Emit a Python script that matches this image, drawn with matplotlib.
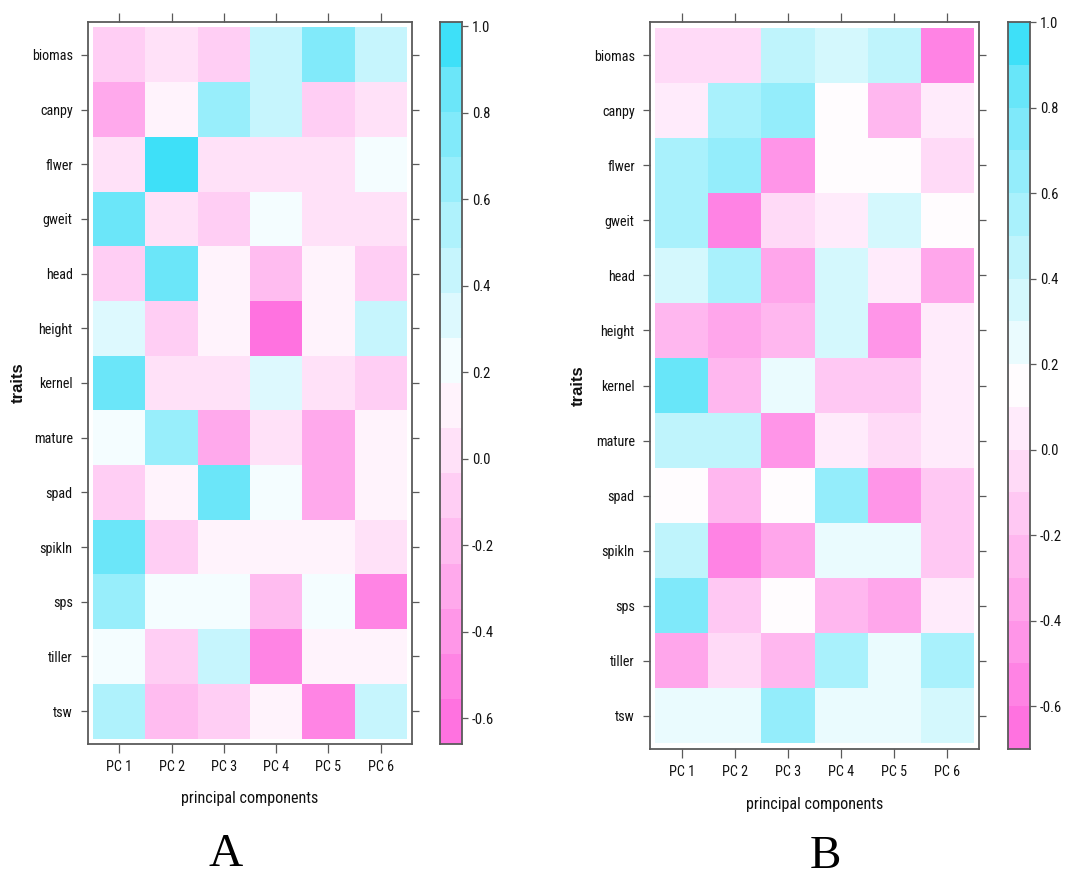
import numpy as np
import matplotlib
matplotlib.use("Agg")
import matplotlib.pyplot as plt
from matplotlib.colors import ListedColormap, BoundaryNorm
from matplotlib import font_manager as fm

# ---------------- data ----------------
traits = ["biomas", "canpy", "flwer", "gweit", "head", "height", "kernel",
          "mature", "spad", "spikln", "sps", "tiller", "tsw"]
components = ["PC 1", "PC 2", "PC 3", "PC 4", "PC 5", "PC 6"]

loadings_A = [
    [-0.08, 0.02, -0.08, 0.44, 0.75, 0.44],   # biomas
    [-0.29, 0.13, 0.65, 0.44, -0.08, 0.02],   # canpy
    [0.02, 1.01, 0.02, 0.02, 0.02, 0.23],     # flwer
    [0.85, 0.02, -0.08, 0.23, 0.02, 0.02],    # gweit
    [-0.08, 0.85, 0.13, -0.19, 0.13, -0.08],  # head
    [0.33, -0.08, 0.13, -0.66, 0.13, 0.44],   # height
    [0.85, 0.02, 0.02, 0.33, 0.02, -0.08],    # kernel
    [0.23, 0.65, -0.29, 0.02, -0.29, 0.13],   # mature
    [-0.08, 0.13, 0.85, 0.23, -0.29, 0.13],   # spad
    [0.85, -0.08, 0.13, 0.13, 0.13, 0.02],    # spikln
    [0.65, 0.23, 0.23, -0.19, 0.23, -0.50],   # sps
    [0.23, -0.08, 0.44, -0.50, 0.13, 0.13],   # tiller
    [0.54, -0.19, -0.08, 0.13, -0.50, 0.44],  # tsw
]

loadings_B = [
    [-0.05, -0.05, 0.45, 0.35, 0.45, -0.55],  # biomas
    [0.05, 0.55, 0.65, 0.15, -0.25, 0.05],    # canpy
    [0.55, 0.65, -0.45, 0.15, 0.15, -0.05],   # flwer
    [0.55, -0.55, -0.05, 0.05, 0.35, 0.15],   # gweit
    [0.35, 0.55, -0.35, 0.35, 0.05, -0.35],   # head
    [-0.25, -0.35, -0.25, 0.35, -0.45, 0.05], # height
    [0.85, -0.25, 0.25, -0.15, -0.15, 0.05],  # kernel
    [0.45, 0.45, -0.45, 0.05, -0.05, 0.05],   # mature
    [0.15, -0.25, 0.15, 0.65, -0.45, -0.15],  # spad
    [0.45, -0.55, -0.35, 0.25, 0.25, -0.15],  # spikln
    [0.75, -0.15, 0.15, -0.25, -0.35, 0.05],  # sps
    [-0.35, -0.05, -0.25, 0.55, 0.25, 0.55],  # tiller
    [0.25, 0.25, 0.65, 0.25, 0.25, 0.35],     # tsw
]

colorkey_ticks = [-0.6, -0.4, -0.2, 0.0, 0.2, 0.4, 0.6, 0.8, 1.0]
levels_B_range = (-0.7, 1.0)   # colour key range used in panel B (step 0.1)

# ---------------- style ----------------
W, H = 1071, 876
plt.rcParams["axes.unicode_minus"] = False
TXT = "#111111"
FRAME = "#5a5a5a"


def find_narrow_font():
    prefs = ["liberation sans narrow", "arial narrow", "roboto condensed",
             "noto sans condensed", "open sans condensed"]
    entries = fm.fontManager.ttflist
    for p in prefs:
        for e in entries:
            if e.name.lower() == p and e.weight in (400, "normal", "regular") \
                    and e.style == "normal":
                return e.fname
        for e in entries:
            if e.name.lower() == p:
                return e.fname
    for base in ["DejaVu Sans", "Noto Sans", "Open Sans", "Roboto", "Liberation Sans"]:
        for e in entries:
            if e.name == base and str(e.stretch) in ("condensed", "semi-condensed") \
                    and e.style == "normal" and e.weight in (400, "normal", "regular"):
                return e.fname
    return None


NARROW = find_narrow_font()


def sans(size):
    if NARROW:
        return fm.FontProperties(fname=NARROW, size=size)
    return fm.FontProperties(family=["Liberation Sans", "DejaVu Sans"], size=size * 0.86)


# colour ramp magenta -> white -> cyan (lattice-like levels)
MAG_NODES_T = [0.0, 1.0]
MAG_NODES = [(255, 255, 255), (255, 114, 224)]
CYA_NODES_T = [0.0, 0.87, 1.0]
CYA_NODES = [(255, 255, 255), (106, 230, 249), (62, 224, 248)]


def ramp(t, nodes_t, nodes):
    arr = np.array(nodes, dtype=float)
    return tuple(np.interp(t, nodes_t, arr[:, i]) / 255.0 for i in range(3))


def band_colors(n):
    cols = []
    for f in np.linspace(0, 1, n):
        if f <= 0.5:
            t = 0.02 + 0.98 * (0.5 - f) / 0.5
            cols.append(ramp(t, MAG_NODES_T, MAG_NODES))
        else:
            t = (f - 0.5) / 0.5
            cols.append(ramp(t, CYA_NODES_T, CYA_NODES))
    return cols


def px_rect(x0, y0, x1, y1):
    return [x0 / W, 1 - y1 / H, (x1 - x0) / W, (y1 - y0) / H]


fig = plt.figure(figsize=(W / 100, H / 100), dpi=100)
fig.patch.set_facecolor("white")


def panel(values, levels, ax_rect, cb_rect, traits_x, xlab_y, letter, letter_xy):
    data = np.array(values)
    nb = len(levels) - 1
    cmap = ListedColormap(band_colors(nb))
    cmap.set_over(cmap(nb - 1))
    cmap.set_under(cmap(0))
    norm = BoundaryNorm(levels, nb)

    ax = fig.add_axes(px_rect(*ax_rect))
    nx, ny = len(components), len(traits)
    ax.pcolormesh(np.arange(nx + 1) + 0.5, np.arange(ny + 1) + 0.5, data,
                  cmap=cmap, norm=norm, edgecolors="none", antialiased=False)
    ax.set_xlim(0.4, nx + 0.6)
    ax.set_ylim(ny + 0.6, 0.4)
    ax.set_xticks(np.arange(1, nx + 1))
    ax.set_xticklabels(components)
    ax.set_yticks(np.arange(1, ny + 1))
    ax.set_yticklabels(traits)
    ax.tick_params(axis="x", which="both", top=True, bottom=True, direction="out",
                   length=6.5, width=0.9, color=FRAME, pad=5, labelcolor=TXT)
    ax.tick_params(axis="y", which="both", left=True, right=True, direction="out",
                   length=5, width=0.9, color=FRAME, pad=6, labelcolor=TXT)
    for lab in ax.get_xticklabels() + ax.get_yticklabels():
        lab.set_fontproperties(sans(10.2))
    for s in ax.spines.values():
        s.set_color(FRAME)
        s.set_linewidth(1.3)

    # axis titles
    x0, y0, x1, y1 = ax_rect
    fig.text((x0 + x1) / 2 / W, 1 - xlab_y / H, "principal components",
             ha="center", va="center", color=TXT, fontproperties=sans(11.6))
    fig.text(traits_x / W, 1 - (y0 + y1) / 2 / H, "traits", rotation=90,
             ha="center", va="center", fontsize=12, color=TXT,
             family=["Liberation Sans", "DejaVu Sans"], fontweight="bold")
    fig.text(letter_xy[0] / W, 1 - letter_xy[1] / H, letter, ha="center",
             va="baseline", fontsize=34, color="black",
             family=["Liberation Serif", "DejaVu Serif"])

    # colour key
    cax = fig.add_axes(px_rect(*cb_rect))
    centers = (np.array(levels[:-1]) + np.array(levels[1:])) / 2
    cax.pcolormesh([0, 1], levels, centers.reshape(-1, 1), cmap=cmap, norm=norm,
                   edgecolors="none", antialiased=False)
    cax.set_xlim(0, 1)
    cax.set_ylim(levels[0], levels[-1])
    cax.set_xticks([])
    cax.yaxis.tick_right()
    cax.set_yticks(colorkey_ticks)
    cax.set_yticklabels([f"{t:.1f}" for t in colorkey_ticks])
    cax.tick_params(axis="y", direction="out", length=4, width=0.9, color=FRAME,
                    pad=3, labelcolor=TXT)
    for lab in cax.get_yticklabels():
        lab.set_fontproperties(sans(10.5))
    for s in cax.spines.values():
        s.set_color(FRAME)
        s.set_linewidth(1.3)
    return ax


dataA = np.array(loadings_A)
levels_A = np.linspace(dataA.min(), dataA.max(), 17)
levels_B = np.linspace(levels_B_range[0], levels_B_range[1], 18)

panel(loadings_A, levels_A, (88, 22, 412, 744), (440, 22, 462, 744),
      traits_x=18, xlab_y=799, letter="A", letter_xy=(226, 866))
panel(loadings_B, levels_B, (650, 22, 979, 749), (1008, 22, 1030, 749),
      traits_x=578, xlab_y=805, letter="B", letter_xy=(825, 868))

fig.savefig("out.png", dpi=100, facecolor="white")
